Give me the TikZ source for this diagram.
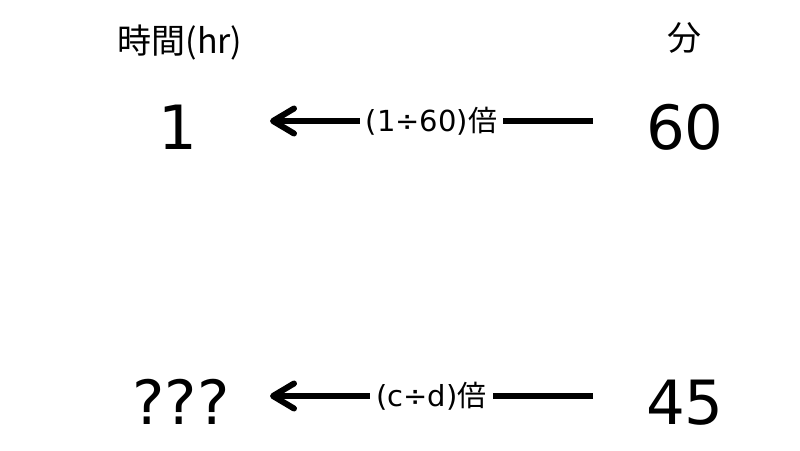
\documentclass[tikz,border=0pt]{standalone}
\usepackage{fontspec}
\setmainfont{DejaVu Sans}
\newfontfamily\cjk{Noto Sans CJK JP}
\usetikzlibrary{arrows.meta}

\begin{document}
\begin{tikzpicture}[x=1pt, y=-1pt]
		\tikzset{unit/.style = {inner sep=0pt, font=\fontsize{34}{40}\selectfont\cjk}}
		\tikzset{amount/.style = {inner sep=0pt, font=\fontsize{61}{70}\selectfont}}
		\tikzset{rate/.style = {fill=white, inner sep=6pt, font=\fontsize{29}{34}\selectfont}}
		\tikzset{conv/.style = {line width=6pt, -{Straight Barb[length=21pt, width=25pt, round]}}}

		\useasboundingbox (0,0) rectangle (800,450);

		\node[unit] (hour) at (180,43) {時間(hr)};
		\node[unit] (minute) at (684,38) {分};

		\node[amount] (h1) at (178,127) {1};
		\node[amount] (m1) at (685,127) {60};
		\node[amount] (h2) at (181,402) {???};
		\node[amount] (m2) at (685,403) {45};

		\coordinate (s1) at (593,121);
		\coordinate (t1) at (270,121);
		\coordinate (s2) at (593,396);
		\coordinate (t2) at (270,396);

		\draw[conv] (s1) -- node[rate] {(1÷60){\cjk 倍}} (t1);
		\draw[conv] (s2) -- node[rate] {(c÷d){\cjk 倍}} (t2);

	\end{tikzpicture}
\end{document}
